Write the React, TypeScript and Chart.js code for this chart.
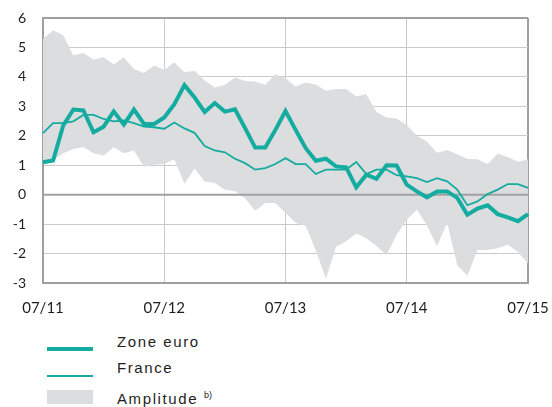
import React, { useEffect, useRef } from "react";
import { Chart, registerables } from "chart.js";

Chart.register(...registerables);

const months = [
  "07/11", "08/11", "09/11", "10/11", "11/11", "12/11",
  "01/12", "02/12", "03/12", "04/12", "05/12", "06/12",
  "07/12", "08/12", "09/12", "10/12", "11/12", "12/12",
  "01/13", "02/13", "03/13", "04/13", "05/13", "06/13",
  "07/13", "08/13", "09/13", "10/13", "11/13", "12/13",
  "01/14", "02/14", "03/14", "04/14", "05/14", "06/14",
  "07/14", "08/14", "09/14", "10/14", "11/14", "12/14",
  "01/15", "02/15", "03/15", "04/15", "05/15", "06/15",
  "07/15",
];

const tickLabels = ["07/11", "07/12", "07/13", "07/14", "07/15"];

const zoneEuro = [
  1.10, 1.16, 2.35, 2.89, 2.86, 2.12, 2.31, 2.83, 2.38, 2.89, 2.40, 2.40,
  2.62, 3.07, 3.72, 3.30, 2.81, 3.11, 2.82, 2.90, 2.26, 1.60, 1.60, 2.20,
  2.84, 2.20, 1.58, 1.15, 1.22, 0.96, 0.93, 0.25, 0.68, 0.54, 1.00, 0.99,
  0.34, 0.11, -0.09, 0.11, 0.11, -0.11, -0.68, -0.47, -0.36, -0.66, -0.77, -0.90,
  -0.66,
];

const france = [
  2.09, 2.43, 2.43, 2.49, 2.71, 2.71, 2.57, 2.49, 2.52, 2.43, 2.31, 2.29,
  2.24, 2.45, 2.25, 2.10, 1.65, 1.50, 1.44, 1.22, 1.07, 0.85, 0.90, 1.04,
  1.24, 1.04, 1.04, 0.70, 0.85, 0.85, 0.85, 1.11, 0.70, 0.85, 0.85, 0.66,
  0.62, 0.56, 0.43, 0.56, 0.45, 0.17, -0.36, -0.23, 0.02, 0.17, 0.36, 0.36,
  0.23,
];

const amplitudeMax = [
  5.29, 5.58, 5.41, 4.73, 4.81, 4.58, 4.67, 4.42, 4.67, 4.27, 4.13, 4.39,
  4.23, 4.50, 4.16, 4.21, 3.88, 3.64, 3.73, 3.98, 3.86, 3.84, 3.73, 4.09,
  3.95, 3.67, 3.81, 3.73, 3.53, 3.59, 3.59, 3.33, 3.41, 2.81, 2.62, 2.59,
  2.36, 2.01, 1.80, 1.42, 1.52, 1.37, 1.21, 1.20, 1.04, 1.40, 1.28, 1.12,
  1.20,
];

const amplitudeMin = [
  1.07, 1.16, 1.41, 1.55, 1.61, 1.41, 1.33, 1.61, 1.41, 1.50, 0.95, 1.02,
  1.05, 1.20, 0.36, 0.89, 0.45, 0.40, 0.17, 0.12, -0.12, -0.55, -0.28, -0.28,
  -0.62, -0.95, -1.06, -1.90, -2.85, -1.77, -1.58, -1.32, -1.48, -1.74, -2.05, -1.36,
  -0.85, -0.50, -1.05, -1.75, -0.95, -2.40, -2.75, -1.88, -1.88, -1.82, -1.70, -1.95,
  -2.34,
];

const TEAL = "#14aba0";
const BAND = "#dcdddf";
const GRID = "#cacaca";
const BORDER = "#a0a0a0";
const TEXT = "#1e1e1e";

const zeroLinePlugin = {
  id: "zeroLine",
  beforeDatasetsDraw(chart: any) {
    const { ctx, chartArea, scales } = chart;
    const y = scales.y.getPixelForValue(0);
    ctx.save();
    ctx.strokeStyle = BORDER;
    ctx.lineWidth = 2;
    ctx.beginPath();
    ctx.moveTo(chartArea.left, y);
    ctx.lineTo(chartArea.right, y);
    ctx.stroke();
    ctx.restore();
  },
};

function ChartCanvas() {
  const ref = useRef<HTMLCanvasElement | null>(null);
  useEffect(() => {
    if (!ref.current) return;
    const chart = new Chart(ref.current, {
      type: "line",
      data: {
        labels: months,
        datasets: [
          {
            label: "Zone euro",
            data: zoneEuro,
            borderColor: TEAL,
            borderWidth: 4,
            pointRadius: 0,
            fill: false,
            order: 0,
            tension: 0,
          },
          {
            label: "France",
            data: france,
            borderColor: TEAL,
            borderWidth: 1.8,
            pointRadius: 0,
            fill: false,
            order: 1,
            tension: 0,
          },
          {
            label: "Amplitude max",
            data: amplitudeMax,
            borderWidth: 0,
            borderColor: BAND,
            backgroundColor: BAND,
            pointRadius: 0,
            fill: "+1",
            order: 2,
            tension: 0,
          },
          {
            label: "Amplitude min",
            data: amplitudeMin,
            borderWidth: 0,
            borderColor: BAND,
            backgroundColor: BAND,
            pointRadius: 0,
            fill: false,
            order: 2,
            tension: 0,
          },
        ],
      },
      options: {
        animation: false,
        responsive: false,
        devicePixelRatio: 1,
        layout: { padding: { top: 18, right: 24, left: 0, bottom: 0 } },
        plugins: {
          legend: { display: false },
          tooltip: { enabled: false },
          filler: { drawTime: "beforeDatasetsDraw" },
        },
        scales: {
          x: {
            type: "category",
            offset: false,
            afterFit: (s: any) => {
              s.height = 37;
              s.paddingLeft = 0;
              s.paddingRight = 0;
            },
            grid: {
              drawTicks: false,
              color: (c: any) => {
                const i = c.index;
                if (i === months.length - 1) return BORDER;
                if (i % 12 === 0 && i !== 0) return GRID;
                return "rgba(0,0,0,0)";
              },
              lineWidth: (c: any) => (c.index === months.length - 1 ? 2 : 1),
            },
            border: { display: true, color: BORDER, width: 2 },
            ticks: {
              autoSkip: false,
              maxRotation: 0,
              minRotation: 0,
              padding: 16,
              color: TEXT,
              font: { family: "Lato", size: 15 },
              callback: (_v: any, i: number) =>
                i % 12 === 0 ? tickLabels[i / 12] : "",
            },
          },
          y: {
            min: -3,
            max: 6,
            afterFit: (s: any) => {
              s.width = 43;
              s.paddingTop = 0;
              s.paddingBottom = 0;
            },
            grid: {
              drawTicks: false,
              color: (c: any) => (c.tick && c.tick.value === 6 ? BORDER : GRID),
              lineWidth: (c: any) => (c.tick && c.tick.value === 6 ? 2 : 1),
            },
            border: { display: true, color: BORDER, width: 2 },
            ticks: {
              stepSize: 1,
              padding: 17,
              color: TEXT,
              font: { family: "Lato", size: 14 },
            },
          },
        },
      },
      plugins: [zeroLinePlugin],
    } as any);
    return () => chart.destroy();
  }, []);
  return (
    <canvas
      ref={ref}
      width={552}
      height={320}
      style={{ display: "block", position: "absolute", left: 0, top: 0 }}
    />
  );
}

const legendText: React.CSSProperties = {
  position: "absolute",
  left: 117,
  fontFamily: "'Liberation Sans', Arial, sans-serif",
  fontSize: 15,
  lineHeight: "18px",
  letterSpacing: "1.6px",
  color: TEXT,
  whiteSpace: "nowrap",
};

export default function App() {
  return (
    <div
      style={{
        position: "absolute",
        left: 0,
        top: 0,
        width: 552,
        height: 407,
        background: "#fff",
        overflow: "hidden",
      }}
    >
      <ChartCanvas />
      <div style={{ position: "absolute", left: 47, top: 347, width: 46, height: 4, background: TEAL }} />
      <div style={{ position: "absolute", left: 47, top: 375, width: 46, height: 2, background: TEAL }} />
      <div style={{ position: "absolute", left: 47, top: 390, width: 46, height: 14, background: BAND }} />
      <div style={{ ...legendText, top: 333 }}>Zone euro</div>
      <div style={{ ...legendText, top: 359 }}>France</div>
      <div style={{ ...legendText, top: 386 }}>
        Amplitude{" "}
        <sup style={{ fontSize: 9, letterSpacing: 0, verticalAlign: "6px" }}>b)</sup>
      </div>
    </div>
  );
}
